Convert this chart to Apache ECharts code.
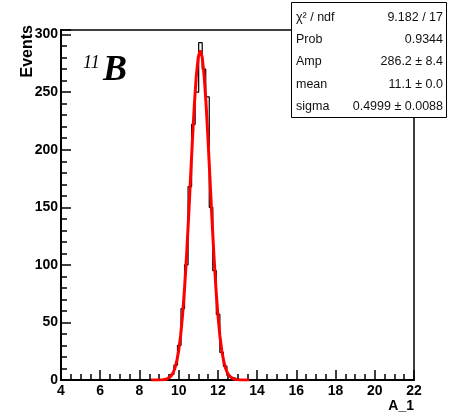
<!DOCTYPE html>
<html>
<head>
<meta charset="utf-8">
<script src="https://cdn.jsdelivr.net/npm/echarts@6/dist/echarts.min.js"></script>
<style>
html,body{margin:0;padding:0;background:#fff;}
#c{width:450px;height:414px;}
</style>
</head>
<body>
<div id="c"></div>
<script>
// Histogram: 100 bins from 4 to 22
const binStart = 4;
const binWidth = 0.18;
const counts = [
  0,0,0,0,0,0,0,0,0,0,
  0,0,0,0,0,0,0,0,0,0,
  0,0,0,0,0,0,0,0,0,1,
  2,5,13,30,62,100,168,222,250,293,
  270,246,150,95,57,24,12,4,2,1,
  0,0,0,0,0,0,0,0,0,0,
  0,0,0,0,0,0,0,0,0,0,
  0,0,0,0,0,0,0,0,0,0,
  0,0,0,0,0,0,0,0,0,0,
  0,0,0,0,0,0,0,0,0,0
];
// Gaussian fit curve
const fitX = [8.6,8.7,8.8,8.9,9.0,9.1,9.2,9.3,9.4,9.5,9.6,9.7,9.8,9.9,10.0,10.1,10.2,10.3,10.4,10.5,10.6,10.7,10.8,10.9,11.0,
  11.1,11.2,11.3,11.4,11.5,11.6,11.7,11.8,11.9,12.0,12.1,12.2,12.3,12.4,12.5,12.6,12.7,12.8,12.9,13.0,13.1,13.2,13.3,13.4,13.5,13.6];
const fitY = [0,0,0.01,0.02,0.04,0.10,0.21,0.44,0.88,1.71,3.18,5.68,9.74,16.1,25.4,38.7,56.6,79.6,107.4,139.3,173.6,207.8,239.1,264.2,280.5,
  286.2,280.5,264.2,239.1,207.8,173.6,139.3,107.4,79.6,56.6,38.7,25.4,16.1,9.74,5.68,3.18,1.71,0.88,0.44,0.21,0.10,0.04,0.02,0.01,0,0];
const xTicks = {min: 4, max: 22, interval: 2};
const yTicks = {min: 0, max: 304, interval: 50};
const statLabels = ['\u03c7\u00b2 / ndf', 'Prob', 'Amp', 'mean', 'sigma'];
const statValues = ['9.182 / 17', '0.9344', '286.2 \u00b1 8.4', '11.1 \u00b1 0.0', '0.4999 \u00b1 0.0088'];

const histData = counts.map((v, k) => [+(binStart + k * binWidth).toFixed(4), v]);
histData.push([+(binStart + counts.length * binWidth).toFixed(4), counts[counts.length - 1]]);
const fitData = fitX.map((x, i) => [x, fitY[i]]);

const FONT = '"Liberation Sans", Arial, Helvetica, sans-serif';
const chart = echarts.init(document.getElementById('c'), null, {renderer: 'canvas'});

const statGraphics = [{
  type: 'rect', shape: {x: 291.5, y: 2.5, width: 155, height: 115},
  style: {fill: '#fff', stroke: '#000', lineWidth: 1}, z: 100
}];
const rowY = [18, 40, 62, 85, 107];
statLabels.forEach((t, i) => {
  statGraphics.push({type: 'text', x: 296, y: rowY[i], z: 101,
    style: {text: t, font: '12.5px ' + FONT, fill: '#111', textAlign: 'left', textVerticalAlign: 'middle'}});
  statGraphics.push({type: 'text', x: 443, y: rowY[i], z: 101,
    style: {text: statValues[i], font: '12.5px ' + FONT, fill: '#111', textAlign: 'right', textVerticalAlign: 'middle'}});
});

chart.setOption({
  animation: false,
  backgroundColor: '#fff',
  grid: {left: 61, right: 36, top: 30, bottom: 34, show: true, borderColor: '#000', borderWidth: 1.5, backgroundColor: 'transparent'},
  xAxis: {
    type: 'value', min: xTicks.min, max: xTicks.max, interval: xTicks.interval,
    axisLine: {show: true, onZero: false, lineStyle: {color: '#000', width: 2}},
    axisTick: {show: true, inside: true, length: 10, lineStyle: {color: '#000', width: 1.5}},
    minorTick: {show: true, splitNumber: 4, length: 6, lineStyle: {color: '#000', width: 1.5}},
    splitLine: {show: false},
    axisLabel: {color: '#000', fontSize: 14, fontWeight: 'bold', fontFamily: FONT, margin: 4}
  },
  yAxis: {
    type: 'value', min: yTicks.min, max: yTicks.max, interval: yTicks.interval,
    axisLine: {show: true, onZero: false, lineStyle: {color: '#000', width: 2}},
    axisTick: {show: true, inside: true, length: 10, lineStyle: {color: '#000', width: 1.5}},
    minorTick: {show: true, splitNumber: 5, length: 6, lineStyle: {color: '#000', width: 1.5}},
    splitLine: {show: false},
    axisLabel: {color: '#000', fontSize: 14, fontWeight: 'bold', fontFamily: FONT, margin: 3, showMaxLabel: false}
  },
  series: [
    {type: 'line', data: histData, step: 'end', symbol: 'none', lineStyle: {color: '#000', width: 1.2}, z: 2},
    {type: 'line', data: fitData, smooth: false, symbol: 'none', lineStyle: {color: '#ff0000', width: 3}, z: 3}
  ],
  graphic: [
    {type: 'text', x: 27.5, y: 25, rotation: Math.PI / 2, z: 50,
      style: {text: 'Events', font: 'bold 16px ' + FONT, fill: '#000', textAlign: 'right', textVerticalAlign: 'middle'}},
    {type: 'text', x: 414, y: 406, z: 50,
      style: {text: 'A_1', font: 'bold 14px ' + FONT, fill: '#000', textAlign: 'right', textVerticalAlign: 'middle'}},
    {type: 'text', x: 83, y: 54, z: 50,
      style: {text: '11', font: 'italic 18px "Liberation Serif", "Times New Roman", serif', fill: '#000', textAlign: 'left', textVerticalAlign: 'top'}},
    {type: 'text', x: 103, y: 53, z: 50,
      style: {text: 'B', font: 'italic bold 36px "Liberation Serif", "Times New Roman", serif', fill: '#000', textAlign: 'left', textVerticalAlign: 'top'}}
  ].concat(statGraphics)
});
</script>
</body>
</html>
